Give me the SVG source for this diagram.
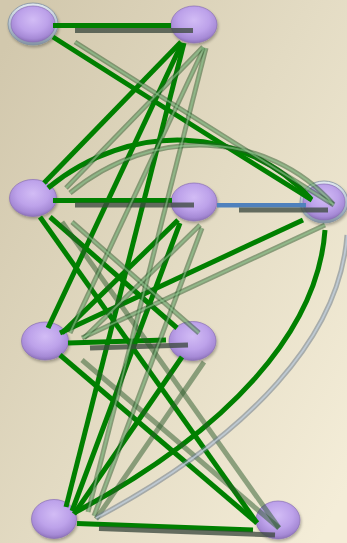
<svg xmlns="http://www.w3.org/2000/svg" width="347" height="543" viewBox="0 0 347 543">
<defs>
<linearGradient id="bg" x1="0" y1="0.1" x2="1" y2="0.9">
<stop offset="0" stop-color="#d2c8ad"/>
<stop offset="0.5" stop-color="#e3dbc3"/>
<stop offset="1" stop-color="#f4edd8"/>
</linearGradient>
<radialGradient id="pur" cx="0.5" cy="0.38" r="0.62">
<stop offset="0" stop-color="#d2bcf5"/>
<stop offset="0.55" stop-color="#bda2ea"/>
<stop offset="0.85" stop-color="#a68ad6"/>
<stop offset="1" stop-color="#8d72ba"/>
</radialGradient>
<linearGradient id="rim" x1="0" y1="0" x2="0" y2="1">
<stop offset="0" stop-color="#e2e9f0"/>
<stop offset="0.5" stop-color="#b4c2d0"/>
<stop offset="1" stop-color="#8494a6"/>
</linearGradient>
<filter id="ds" x="-20%" y="-20%" width="140%" height="150%">
<feGaussianBlur in="SourceAlpha" stdDeviation="1.5"/>
<feOffset dx="1" dy="2" result="b"/>
<feComponentTransfer><feFuncA type="linear" slope="0.3"/></feComponentTransfer>
<feMerge><feMergeNode/><feMergeNode in="SourceGraphic"/></feMerge>
</filter>
</defs>
<style>
.node{fill:url(#pur);stroke:#8a70b5;stroke-width:1;stroke-opacity:0.7}
.ring{fill:url(#rim);stroke:#8090a0;stroke-width:0.8}
.e{fill:none;stroke:#008000;stroke-width:5}
.b{fill:none;stroke:#4f81bd;stroke-width:4.5}
.so{fill:none;stroke:#2a5a2a;stroke-width:5;stroke-opacity:0.5}
.si{fill:none;stroke:#98d098;stroke-width:1.8;stroke-opacity:0.55}
.sbo{fill:none;stroke:#6e7c8c;stroke-width:5;stroke-opacity:0.55}
.sbi{fill:none;stroke:#c8d6e4;stroke-width:1.8;stroke-opacity:0.7}
.sh{fill:none;stroke:#3e4a40;stroke-width:5;stroke-opacity:0.78}
</style>
<rect x="0" y="0" width="347" height="543" fill="url(#bg)"/>

<g id="nodes">
<g id="n1" filter="url(#ds)"><ellipse class="ring" cx="33" cy="24" rx="25" ry="21"/><ellipse class="node" cx="33" cy="24" rx="22" ry="18"/></g>
<g id="n2" filter="url(#ds)"><ellipse class="node" cx="194" cy="24.5" rx="23" ry="18.5"/></g>
<g id="n3" filter="url(#ds)"><ellipse class="node" cx="33" cy="198" rx="23.5" ry="18.5"/></g>
<g id="n4" filter="url(#ds)"><ellipse class="node" cx="194" cy="202" rx="23" ry="19"/></g>
<g id="n5" filter="url(#ds)"><ellipse class="ring" cx="324" cy="202" rx="24" ry="21"/><ellipse class="node" cx="324" cy="202" rx="21" ry="18"/></g>
<g id="n6" filter="url(#ds)"><ellipse class="node" cx="45" cy="341" rx="23.5" ry="19"/></g>
<g id="n7" filter="url(#ds)"><ellipse class="node" cx="192.5" cy="341" rx="23.5" ry="19.5"/></g>
<g id="n8" filter="url(#ds)"><ellipse class="node" cx="54" cy="519" rx="22.5" ry="19.5"/></g>
<g id="n9" filter="url(#ds)"><ellipse class="node" cx="278" cy="520" rx="22" ry="19"/></g>
</g>

<g id="connectors">
<path class="e" d="M53,25.5 L171,25.5"/>
<path class="e" d="M53,37 Q215,140 312,200"/>
<path class="e" d="M48,188 C130,120 245,125 311,199"/>
<path class="e" d="M181,42 L44,183"/>
<path class="e" d="M182,43 L48,328"/>
<path class="e" d="M184,43 L66,507"/>
<path class="e" d="M53,200.5 L172,200.5"/>
<path class="e" d="M50,217 L177,328"/>
<path class="e" d="M40,217 L257,523"/>
<path class="e" d="M178,220 L62,333"/>
<path class="e" d="M180,223 L72,511"/>
<path class="e" d="M303,220 L60,333"/>
<path class="e" d="M325,230 C318,330 230,430 74,513"/>
<path class="e" d="M68,343 L166,340"/>
<path class="e" d="M60,355 L257,523"/>
<path class="e" d="M182,357 L74,514"/>
<path class="e" d="M77,523.5 L253,530"/>
<path class="b" d="M217,205.3 L306,205.3"/>
</g>

<g id="connector-shadows">
<path class="sh" d="M75,30.5 L193,30.5"/>
<path class="sh" d="M75,205 L194,205"/>
<path class="sh" d="M239,210 L328,210"/>
<path class="sh" d="M90,348 L188,345"/>
<path class="sh" d="M99,528.5 L275,535"/>
<g>
<path class="so" d="M75,42 Q237,145 334,205"/>
<path class="so" d="M70,193 C152,125 267,130 333,204"/>
<path class="so" d="M203,47 L66,188"/>
<path class="so" d="M204,48 L70,333"/>
<path class="so" d="M206,48 L88,512"/>
<path class="so" d="M72,222 L199,333"/>
<path class="so" d="M62,222 L279,528"/>
<path class="so" d="M200,225 L84,338"/>
<path class="so" d="M202,228 L94,516"/>
<path class="so" d="M325,225 L82,338"/>
<path class="so" d="M82,360 L279,528"/>
<path class="so" d="M204,362 L96,519"/>
</g>
<g>
<path class="si" d="M75,42 Q237,145 334,205"/>
<path class="si" d="M70,193 C152,125 267,130 333,204"/>
<path class="si" d="M203,47 L66,188"/>
<path class="si" d="M204,48 L70,333"/>
<path class="si" d="M206,48 L88,512"/>
<path class="si" d="M72,222 L199,333"/>
<path class="si" d="M200,225 L84,338"/>
<path class="si" d="M202,228 L94,516"/>
<path class="si" d="M325,225 L82,338"/>
</g>
<path class="sbo" d="M347,235 C340,335 252,435 96,518"/>
<path class="sbi" d="M347,235 C340,335 252,435 96,518"/>
</g>
</svg>
